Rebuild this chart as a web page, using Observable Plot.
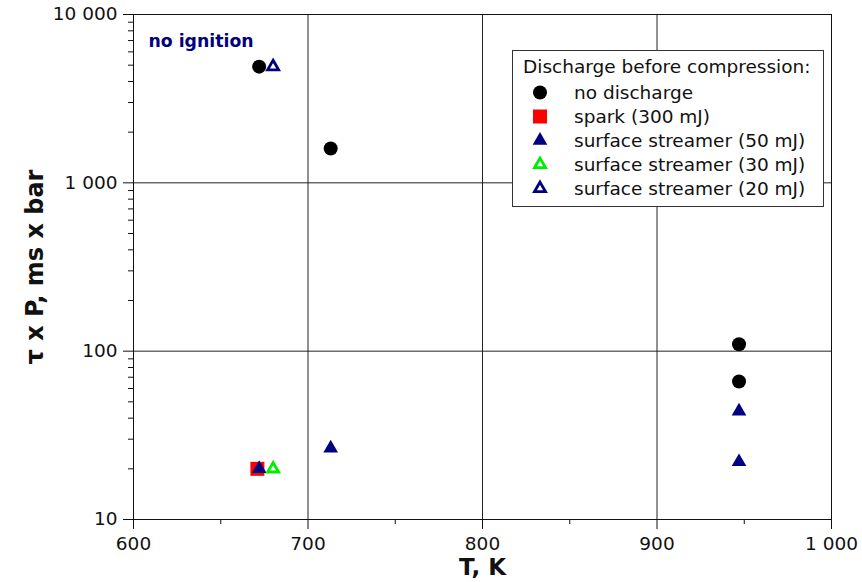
<!DOCTYPE html>
<html>
<head>
<meta charset="utf-8">
<script src="https://cdn.jsdelivr.net/npm/d3@7"></script>
<script src="https://cdn.jsdelivr.net/npm/@observablehq/plot@0.6"></script>
<style>
  body { margin: 0; background: #fff; }
  #wrap { position: relative; width: 862px; height: 582px; font-family: "DejaVu Sans", sans-serif; }
  #wrap svg.plot { position: absolute; left: 0; top: 0; }
  g[aria-label="y-axis label"] { font-weight: bold; font-size: 24px; }
  g[aria-label="x-axis label"] { font-weight: bold; font-size: 23px; }
  #legend { position: absolute; left: 512px; top: 50px; }
</style>
</head>
<body>
<div id="wrap"></div>
<script>
// ---- data ----
const noDischargeT  = [672, 713, 947, 947];
const noDischargeTP = [4900, 1600, 110, 66];
const sparkT  = [671];
const sparkTP = [20];
const ss50T  = [672, 713, 947, 947];
const ss50TP = [20, 26.5, 44, 22];
const ss30T  = [680];
const ss30TP = [20];
const ss20T  = [680];
const ss20TP = [4900];

const xTicks = [600, 700, 800, 900, 1000];
const xMinor = [650, 750, 850, 950];
const yTicks = [10, 100, 1000, 10000];
const yMinor = [];
for (const d of [10, 100, 1000]) for (let k = 2; k <= 9; k++) yMinor.push(d * k);

const legendTitle = "Discharge before compression:";
const seriesNames = ["no discharge", "spark (300 mJ)", "surface streamer (50 mJ)", "surface streamer (30 mJ)", "surface streamer (20 mJ)"];
const annotation = "no ignition";

// ---- styles ----
const NAVY = "#000080", RED = "#ff0000", GREEN = "#00ee00";
const styles = [
  {symbol: "circle",   r: 7,    fill: "#000", stroke: "none", sw: 0},
  {symbol: "square",   r: 7.9,  fill: RED,    stroke: "none", sw: 0},
  {symbol: "triangle", r: 5.45, fill: NAVY,   stroke: "none", sw: 0},
  {symbol: "triangle", r: 4.1,  fill: "none", stroke: GREEN,  sw: 2.8},
  {symbol: "triangle", r: 4.1,  fill: "none", stroke: NAVY,   sw: 2.8}
];

const rows = (T, TP) => T.map((t, i) => ({T: t, TP: TP[i]}));
const series = [
  rows(noDischargeT, noDischargeTP),
  rows(sparkT, sparkTP),
  rows(ss50T, ss50TP),
  rows(ss30T, ss30TP),
  rows(ss20T, ss20TP)
];

const fmt = d3.formatLocale({decimal: ".", thousands: " ", grouping: [3], currency: ["", ""]}).format(",");

const dotMarks = series.map((data, i) => {
  const s = styles[i];
  return Plot.dot(data, {x: "T", y: "TP", symbol: s.symbol, r: s.r, fill: s.fill, stroke: s.stroke, strokeWidth: s.sw});
});

const chart = Plot.plot({
  width: 862, height: 582,
  marginLeft: 133, marginRight: 31, marginTop: 14, marginBottom: 63,
  style: {fontFamily: "DejaVu Sans, sans-serif", fontSize: "18.5px", color: "#111", background: "#fff", overflow: "visible"},
  x: {domain: [600, 1000], label: null},
  y: {type: "log", domain: [10, 10000], label: null},
  marks: [
    Plot.gridX(xTicks, {stroke: "#222", strokeOpacity: 1, strokeWidth: 1}),
    Plot.gridY(yTicks, {stroke: "#222", strokeOpacity: 1, strokeWidth: 1}),
    Plot.axisX(xMinor, {tickSize: 5, tickFormat: () => "", label: null, stroke: "#111"}),
    Plot.axisY(yMinor, {tickSize: 5, tickFormat: () => "", label: null, stroke: "#111"}),
    Plot.axisX(xTicks, {tickSize: 10, tickPadding: 7, tickFormat: fmt, label: "T, K", labelAnchor: "center", labelOffset: 55, labelArrow: "none", stroke: "#111"}),
    Plot.axisY(yTicks, {tickSize: 10, tickPadding: 6, tickFormat: fmt, label: "τ x P, ms x bar", labelAnchor: "center", labelOffset: 108, labelArrow: "none", stroke: "#111"}),
    Plot.frame({stroke: "#111", strokeWidth: 1}),
    Plot.text([annotation], {frameAnchor: "top-left", dx: 15, dy: 20, lineAnchor: "top", textAnchor: "start", fill: NAVY, fontWeight: "bold", fontSize: 17.3}),
    ...dotMarks
  ]
});
chart.classList.add("plot");
const wrap = document.getElementById("wrap");
wrap.appendChild(chart);

// ---- legend ----
const lw = 312, lh = 157;
const lg = d3.select(wrap).append("svg").attr("id", "legend").attr("width", lw).attr("height", lh)
  .style("font-family", "DejaVu Sans, sans-serif").style("font-size", "18.5px");
lg.append("rect").attr("x", 0.5).attr("y", 0.5).attr("width", lw - 1).attr("height", lh - 1)
  .attr("fill", "#fff").attr("stroke", "#333").attr("stroke-width", 1);
lg.append("text").attr("x", 11).attr("y", 23).attr("fill", "#111").text(legendTitle);
const symType = {circle: d3.symbolCircle, square: d3.symbolSquare, triangle: d3.symbolTriangle};
seriesNames.forEach((name, i) => {
  const s = styles[i];
  const base = 49 + i * 24;
  lg.append("path")
    .attr("transform", `translate(28,${base - 6.5})`)
    .attr("d", d3.symbol().type(symType[s.symbol]).size(Math.PI * s.r * s.r)())
    .attr("fill", s.fill).attr("stroke", s.stroke).attr("stroke-width", s.sw);
  lg.append("text").attr("x", 62).attr("y", base).attr("fill", "#111").text(name);
});
</script>
</body>
</html>
